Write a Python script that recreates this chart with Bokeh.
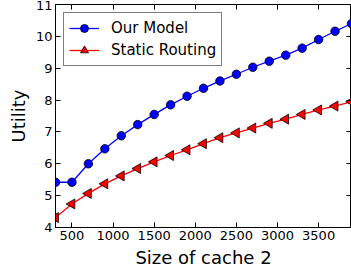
from bokeh.plotting import figure
from bokeh.models import Range1d, LinearAxis, FixedTicker, Legend, LegendItem
from bokeh.embed import file_html
from bokeh.resources import INLINE

cache_size = [300, 500, 700, 900, 1100, 1300, 1500, 1700, 1900, 2100, 2300,
              2500, 2700, 2900, 3100, 3300, 3500, 3700, 3900]
our_model = [5.42, 5.42, 6.00, 6.47, 6.88, 7.23, 7.55, 7.85, 8.12, 8.37, 8.60,
             8.81, 9.03, 9.22, 9.41, 9.63, 9.90, 10.16, 10.40]
static_routing = [4.31, 4.74, 5.07, 5.37, 5.62, 5.85, 6.06, 6.26, 6.44, 6.63, 6.82,
                  6.97, 7.12, 7.27, 7.40, 7.55, 7.69, 7.81, 7.95]
x_ticks = [500, 1000, 1500, 2000, 2500, 3000, 3500]
y_ticks = [4, 5, 6, 7, 8, 9, 10, 11]

FONT = "DejaVu Sans"

p = figure(width=351, height=271, output_backend="svg", toolbar_location=None,
           x_range=Range1d(300, 3900), y_range=Range1d(4, 11),
           min_border_left=55, min_border_right=0, min_border_top=4, min_border_bottom=44)
p.grid.visible = False
p.outline_line_color = "black"
p.outline_line_width = 1

p.xaxis.ticker = FixedTicker(ticks=x_ticks)
p.yaxis.ticker = FixedTicker(ticks=y_ticks)
for ax in p.xaxis + p.yaxis:
    ax.major_tick_in = 5
    ax.major_tick_out = 0
    ax.minor_tick_in = 0
    ax.minor_tick_out = 0
    ax.axis_line_color = "black"
    ax.major_label_text_font = FONT
    ax.major_label_text_font_size = "13px"
    ax.major_label_text_color = "black"
    ax.major_label_standoff = 3
    ax.axis_label_text_font = FONT
    ax.axis_label_text_font_size = "18px"
    ax.axis_label_text_font_style = "normal"
    ax.axis_label_text_color = "black"
    ax.axis_label_standoff = 4
p.xaxis.axis_label = "Size of cache 2"
p.yaxis.axis_label = "Utility"

top = LinearAxis(ticker=FixedTicker(ticks=x_ticks), major_tick_in=5, major_tick_out=0,
                 minor_tick_in=0, minor_tick_out=0,
                 major_label_overrides={t: "" for t in x_ticks},
                 axis_line_color="black")
right = LinearAxis(ticker=FixedTicker(ticks=y_ticks), major_tick_in=5, major_tick_out=0,
                   minor_tick_in=0, minor_tick_out=0,
                   major_label_overrides={t: "" for t in y_ticks},
                   axis_line_color="black")
p.add_layout(top, "above")
p.add_layout(right, "right")
p.min_border_top = 4
p.min_border_right = 0

l1 = p.line(cache_size, our_model, line_color="blue", line_width=1.3)
s1 = p.scatter(cache_size, our_model, marker="circle", size=8.5, fill_color="blue",
               line_color="black", line_width=0.8)
l2 = p.line(cache_size, static_routing, line_color="red", line_width=1.3)
s2 = p.scatter(cache_size, static_routing, marker="triangle", size=10, angle=90,
               angle_units="deg", fill_color="red", line_color="black", line_width=0.8)

legend = Legend(items=[LegendItem(label="Our Model", renderers=[l1, s1]),
                       LegendItem(label="Static Routing", renderers=[l2, s2])],
                location="top_left")
legend.margin = 8
legend.padding = 5
legend.spacing = 2
legend.glyph_width = 30
legend.glyph_height = 20
legend.label_height = 20
legend.label_standoff = 12
legend.label_text_font = FONT
legend.label_text_font_size = "15px"
legend.label_text_color = "black"
legend.border_line_color = "black"
legend.border_line_width = 1
legend.background_fill_alpha = 1
p.add_layout(legend)

open("out.html", "w").write(file_html(p, INLINE))
